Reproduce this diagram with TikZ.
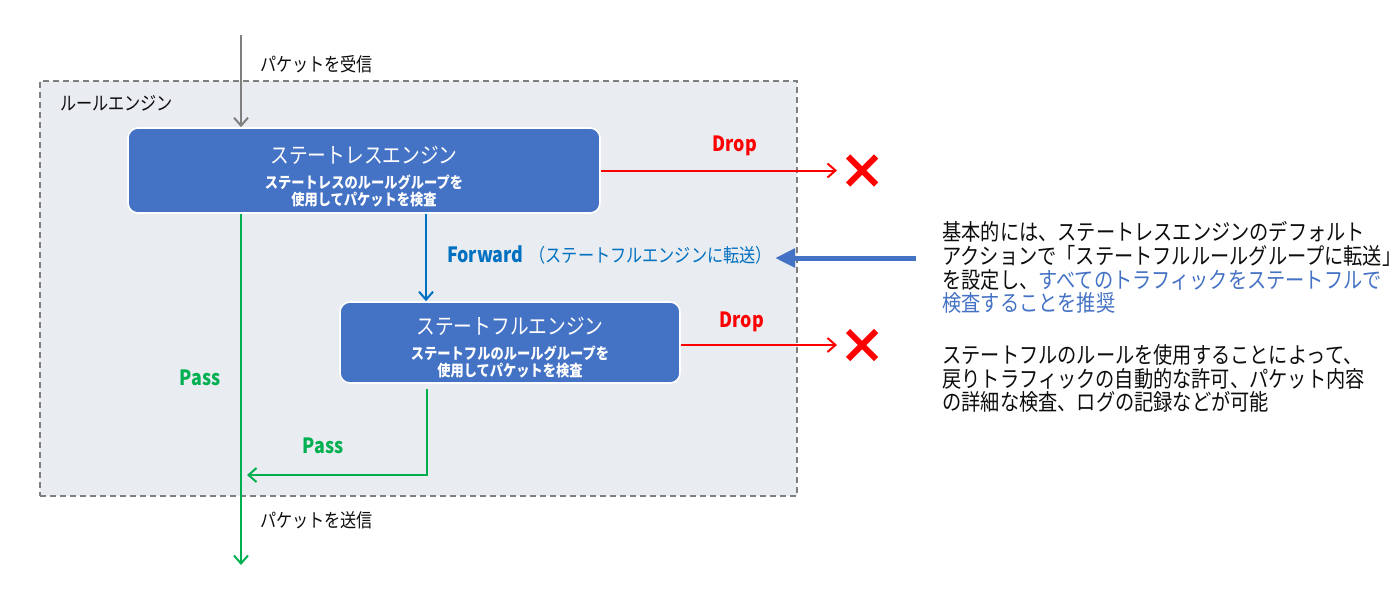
\documentclass[tikz,border=0pt]{standalone}
\usepackage{fontspec}
\setmainfont{Noto Sans CJK JP}[FakeStretch=0.85]
\usetikzlibrary{arrows.meta,shapes.misc}
\definecolor{engblue}{HTML}{4472C4}
\definecolor{fwdblue}{HTML}{0070C0}
\definecolor{dropred}{HTML}{FF0000}
\definecolor{passgreen}{HTML}{00B050}
\definecolor{areafill}{HTML}{E9ECF1}
\definecolor{darktext}{HTML}{0D0D0D}
\definecolor{linegray}{HTML}{7F7F7F}

\begin{document}
\begin{tikzpicture}[x=0.5pt, y=-0.5pt,
  engine/.style={draw=white, line width=0.8pt, fill=engblue, rounded corners=5pt, inner sep=0pt},
  enginetitle/.style={text=white, font=\fontsize{11}{13}\selectfont},
  enginesub/.style={text=white, align=center, font=\bfseries\fontsize{7.8}{8.9}\selectfont},
  flow/.style={line width=1pt, -{Straight Barb[length=4pt,width=7pt]}},
  tag/.style={font=\bfseries\fontsize{10.5}{12}\selectfont},
  plain/.style={text=darktext, font=\fontsize{9.5}{11}\selectfont},
  dropmark/.style={cross out, draw=dropred, line width=3pt, minimum size=11pt, inner sep=0pt}]
\useasboundingbox (0,0) rectangle (1400,601);

\node[draw=linegray, dashed, dash pattern=on 3pt off 2pt, line width=0.6pt, fill=areafill,
  minimum width=378.5pt, minimum height=207.5pt] (rules) at (418.5,288.5) {};
\node[plain, anchor=west] (rulesT) at (53,103) {ルールエンジン};

\node[engine, minimum width=236pt, minimum height=42.5pt] (sless) at (364,170.5) {};
\node[enginetitle] (slessT) at (364,155) {ステートレスエンジン};
\node[enginesub] (slessS) at (364,191) {ステートレスのルールグループを\\使用してパケットを検査};

\node[engine, minimum width=170pt, minimum height=40.5pt] (sful) at (510,342.5) {};
\node[enginetitle] (sfulT) at (510,326) {ステートフルエンジン};
\node[enginesub] (sfulS) at (510,362) {ステートフルのルールグループを\\使用してパケットを検査};

\coordinate (in) at (241,35);
\coordinate (out) at (241,565);
\coordinate (back) at (247,475);
\coordinate (hint) at (916,258);
\node[plain, anchor=west] (inT) at (253,64) {パケットを受信};
\node[plain, anchor=west] (outT) at (253,520) {パケットを送信};

\node[dropmark] (xa) at (862,170.5) {};
\node[dropmark] (xb) at (862,345) {};
\node[tag, text=dropred] (dropA) at (735,146) {Drop};
\node[tag, text=dropred] (dropB) at (742,322) {Drop};
\node[tag, text=passgreen] (passA) at (200,378) {Pass};
\node[tag, text=passgreen] (passB) at (323,446) {Pass};
\node[anchor=west, text=fwdblue, font=\fontsize{9.5}{11}\selectfont] (fwd) at (440,255)
  {{\bfseries\fontsize{10.5}{12}\selectfont Forward}\hspace{3pt}（ステートフルエンジンに転送）};

\draw[flow, linegray] (in) -- (in |- sless.north);
\draw[flow, passgreen] (in |- sless.south) -- (out);
\draw[flow, fwdblue] (426,0 |- sless.south) -- (426,0 |- sful.north);
\draw[flow, dropred] (sless.east) -- ([xshift=-5.5pt]xa.west);
\draw[flow, dropred] (sful.east |- xb) -- ([xshift=-5.5pt]xb.west);
\draw[flow, passgreen] ([yshift=-2.5pt]427,0 |- sful.south) |- (back);

\node[anchor=north west, align=left, inner sep=0pt, text=darktext,
  font=\fontsize{11.3}{11.85}\selectfont] (note) at (942,221)
  {基本的には、ステートレスエンジンのデフォルト\\
   アクションで「ステートフルルールグループに転送」\\
   を設定し、\textcolor{engblue}{すべてのトラフィックをステートフルで}\\
   \textcolor{engblue}{検査することを推奨}\\[14pt]
   ステートフルのルールを使用することによって、\\
   戻りトラフィックの自動的な許可、パケット内容\\
   の詳細な検査、ログの記録などが可能};
\draw[line width=2.5pt, engblue, -{Triangle[length=10pt,width=9pt]}] (hint) -- (775,258);
\end{tikzpicture}
\end{document}
